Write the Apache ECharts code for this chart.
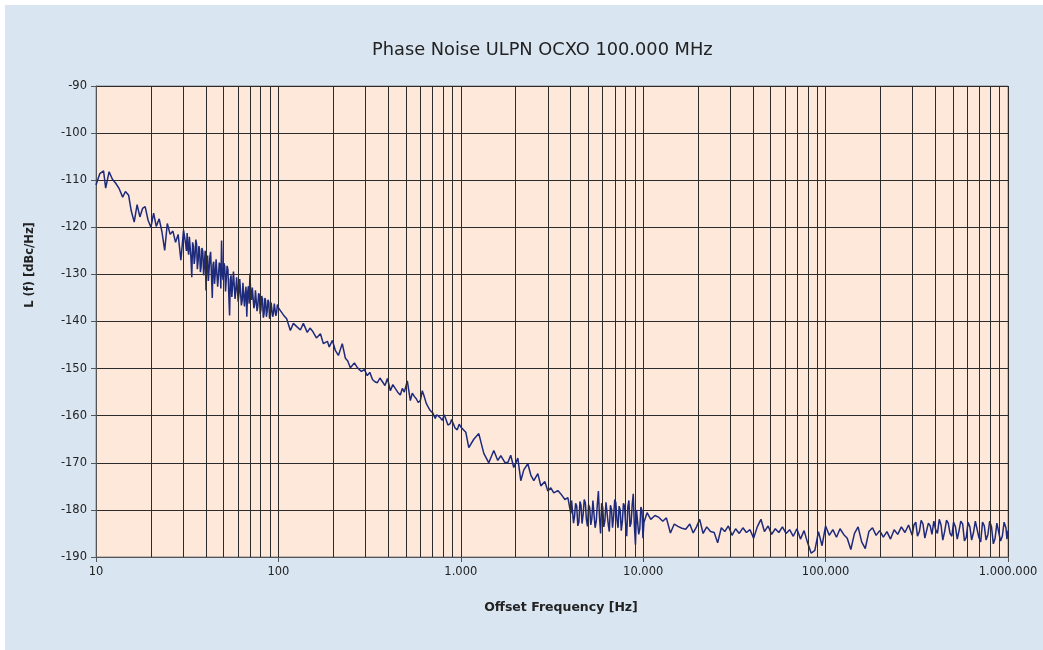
<!DOCTYPE html>
<html>
<head>
<meta charset="utf-8">
<script src="https://cdn.jsdelivr.net/npm/echarts@6/dist/echarts.min.js"></script>
<style>
  html, body { margin: 0; padding: 0; background: #ffffff; }
  #chart { position: absolute; left: 5px; top: 5px; width: 1038px; height: 645px; }
</style>
</head>
<body>
<div id="chart"></div>
<script>
// offset frequency [Hz], 10 Hz .. 100 Hz and 1 kHz .. 1 MHz
const freqHz = [
  10, 10.5, 11, 11.3, 11.8, 12.3, 12.8, 13.4, 14, 14.5, 15.1, 15.6, 16.2, 16.8, 17.4, 18, 18.6, 19.3, 20, 20.7,
  21.4, 22.2, 23, 23.8, 24.6, 25.5, 26.4, 27.3, 28.2, 29.2, 30.2,
  31, 31.3, 31.6, 31.9, 32.2, 32.5, 32.8, 33.15, 33.5, 33.85, 34.2, 34.55, 34.9, 35.25, 35.6, 35.95, 36.3, 36.65, 37, 37.35,
  37.7, 38.1, 38.5, 38.9, 39.3, 39.7, 40.1, 40.5, 40.9, 41.3, 41.7, 42.1, 42.5, 42.95, 43.4, 43.8, 44.2, 44.65, 45.1, 45.55,
  46, 46.45, 46.9, 47.4, 47.9, 48.35, 48.8, 49.3, 49.8, 50.3, 50.8, 51.3, 51.8, 52.35, 52.9, 53.45, 54, 54.5, 55, 55.55,
  56.1, 56.7, 57.3, 57.85, 58.4, 59, 59.6, 60.2, 60.8, 61.4, 62, 62.65, 63.3, 63.9, 64.5, 65.15, 65.8, 66.45, 67.1, 67.8,
  68.5, 69.15, 69.8, 70.5, 71.2, 71.95, 72.7, 73.4, 74.1, 74.85, 75.6, 76.35, 77.1, 77.9, 78.7, 79.45, 80.2, 81, 81.8, 82.65,
  83.5, 84.3, 85.1, 85.95, 86.8, 87.7, 88.6, 89.45, 90.3, 91.2, 92.1, 93.05, 94, 94.95, 95.9, 96.85, 97.8, 98.75, 99.7,
  1065, 1106, 1178, 1255, 1337, 1424, 1517, 1595, 1657, 1743, 1809, 1878, 1951, 2054, 2133, 2215, 2331, 2420, 2513, 2644,
  2746, 2890, 3000, 3115, 3235, 3404, 3535, 3720, 3863, 4011,
  4050, 4100, 4150, 4200, 4260, 4320, 4380, 4440, 4500, 4560, 4620, 4690, 4750, 4820, 4880, 4950, 5020, 5090, 5160, 5230,
  5300, 5380, 5450, 5530, 5600, 5680, 5760, 5840, 5920, 6000, 6080, 6170, 6250, 6340, 6430, 6520, 6610, 6700, 6790, 6890,
  6980, 7080, 7180, 7280, 7380, 7480, 7580, 7690, 7790, 7900, 8010, 8120, 8230, 8350, 8460, 8580, 8700, 8820, 8940, 9070,
  9190, 9320, 9450, 9580, 9710, 9850, 9970, 10100,
  10500, 11000, 11600, 12200, 12800, 13400, 14100, 14800, 15500, 16300, 17100, 18000, 18800, 19600, 20400, 21300, 22300, 23400, 24500, 25600,
  26800, 28000, 29300, 30700, 32100, 33600, 35200, 36800, 38500, 40300, 42200, 44200, 46200, 48400, 50600, 53000, 55400, 58000, 60700, 63500,
  66500, 69600, 72800, 76200, 79700, 83400, 87300, 91400, 95600, 100000, 104700, 109600, 114700, 120000, 125600, 131400, 137500, 144000, 150700, 157700,
  165000, 172700, 180800, 189200, 198000, 207200, 216900, 227000, 237600, 248600, 260200, 272300, 285000, 298300,
  305000, 312200, 319000, 326700, 334000, 342000, 350000, 357900, 366000, 374600, 383000, 392000, 401000, 410300, 420000, 429400, 439000, 449400, 460000, 470300,
  481000, 492200, 503000, 515100, 527000, 539100, 551000, 564200, 577000, 590500, 604000, 618000, 632000, 646800, 662000, 676900, 692000, 708400, 725000, 741400,
  758000, 775900, 794000, 812000, 831000, 849800, 869000, 889400, 910000, 930800, 952000, 974100, 987000, 1000000
];

// L(f) [dBc/Hz] for freqHz
const noiseDbc = [
  -111, -108.6, -108, -111.7, -108.2, -109.8, -110.6, -111.8, -113.6, -112.4, -113.2, -116.5, -118.9, -115.2, -117.8, -116, -115.6, -118.5, -120, -117,
  -119.8, -118.2, -121, -124.9, -119.2, -121.5, -120.8, -123.2, -121.5, -127, -120.6,
  -123.5, -125.0, -121.2, -124.6, -125.8, -122.0, -122.4, -126.5, -130.6, -123.2, -124.0, -127.8, -126.3, -122.6, -123.5, -128.9, -127.2, -124.0, -124.8, -129.5,
  -128.4, -124.4, -125.1, -130.2, -127.5, -125.0, -133.4, -127.8, -126.0, -131.4, -129.0, -126.2, -125.2, -130.0, -135.0, -128.0, -127.3, -132.0, -129.8, -126.8,
  -126.9, -132.6, -130.5, -127.5, -128.0, -133.0, -122.8, -130.0, -131.2, -127.6, -128.3, -133.6, -130.9, -128.2, -129.0, -134.2, -138.7, -131.0, -130.2, -134.8,
  -132.4, -129.4, -129.6, -135.2, -133.5, -130.6, -130.8, -135.8, -134.0, -131.0, -131.2, -136.6, -135.6, -131.8, -132.0, -136.8, -134.2, -132.6, -139.0, -133.8,
  -132.5, -136.2, -129.8, -134.0, -135.4, -132.8, -133.0, -137.2, -136.4, -133.4, -133.8, -137.8, -136.8, -134.0, -134.5, -138.4, -137.5, -134.6, -135.2, -139.2,
  -138.3, -135.0, -135.6, -139.0, -137.8, -135.4, -135.9, -139.4, -138.9, -136.0, -136.3, -139.0, -138.2, -136.2, -136.5, -138.8, -138.0, -136.4, -137.0,
  -163.5, -166.8, -165.0, -163.8, -168.0, -170.0, -167.4, -169.5, -168.5, -169.9, -170.0, -168.4, -171.0, -169.0, -173.8, -171.5, -170.2, -172.6, -173.8, -172.3,
  -174.9, -174.0, -176.0, -175.3, -176.4, -175.9, -176.6, -177.8, -177.4, -180.8,
  -178.0, -178.4, -182.8, -181.5, -178.6, -179.2, -183.4, -182.6, -178.2, -179.0, -182.9, -180.8, -177.8, -178.6, -182.0, -183.5, -178.9, -179.6, -183.2, -181.8,
  -178.0, -178.2, -183.8, -182.4, -179.0, -176.0, -181.6, -185.0, -178.6, -179.5, -183.6, -182.2, -178.4, -178.8, -183.0, -184.6, -179.0, -179.8, -183.8, -181.2,
  -177.8, -178.5, -182.2, -183.8, -179.2, -180.0, -184.4, -182.4, -178.6, -179.2, -183.0, -185.6, -179.4, -178.0, -183.6, -182.8, -179.0, -176.6, -183.2, -187.4,
  -180.0, -179.6, -185.2, -184.0, -179.4, -180.2, -186.0, -182.6,
  -180.6, -182.0, -181.2, -181.6, -182.4, -181.7, -184.9, -183.0, -183.5, -183.9, -184.1, -183.0, -184.9, -183.6, -182.0, -185.0, -183.6, -184.6, -184.8, -187.0,
  -183.8, -184.6, -183.4, -185.4, -184.0, -185.0, -183.8, -184.8, -184.2, -186.0, -183.6, -182.0, -184.6, -183.4, -185.2, -184.0, -184.8, -183.6, -185.0, -184.2,
  -185.6, -184.0, -186.2, -184.4, -187.0, -189.2, -188.6, -184.6, -187.6, -183.4, -185.4, -184.2, -185.8, -184.0, -185.2, -186.0, -188.4, -185.0, -183.6, -186.8,
  -188.2, -184.6, -183.8, -185.4, -184.4, -185.8, -184.6, -186.2, -184.2, -185.2, -183.6, -184.8, -183.2, -185.4,
  -183.2, -182.6, -185.6, -184.6, -182.2, -183.0, -186.0, -185.8, -182.8, -183.4, -185.2, -182.4, -184.2, -185.0, -182.0, -183.2, -186.4, -184.6, -182.2, -182.8,
  -185.0, -185.6, -182.6, -183.6, -186.2, -184.4, -182.4, -183.0, -186.6, -185.8, -182.6, -183.6, -186.4, -184.8, -182.4, -182.8, -185.8, -186.8, -182.6, -183.4,
  -186.4, -185.2, -182.4, -183.6, -187.2, -186.0, -182.8, -183.2, -186.6, -185.6, -182.6, -183.8, -186.2, -184.4
];

// 100 Hz .. 1 kHz decade
const freqMidHz = [
  103, 106.5, 111, 116.3, 120.8, 127, 132, 137, 144, 149, 153.6, 161.6, 170, 176.4, 185.6, 190, 197.8, 205.4, 213.3, 224,
  233, 240, 248, 261, 271, 285, 296, 307, 317, 328, 338, 349, 360, 372, 384, 396, 411, 424, 437, 451,
  466, 478, 490, 509, 529, 542, 556, 570, 584, 600, 615, 631, 647, 663, 680, 702, 724, 738, 752, 771,
  791, 812, 832, 850, 875, 890, 909, 930, 956, 980, 1000
];
const noiseMidDbc = [
  -137.8, -138.6, -139.4, -141.9, -140.4, -141.2, -141.8, -140.4, -142.3, -141.4, -142.0, -143.5, -142.6, -144.7, -144.2, -145.4, -144.0, -146.2, -147.2, -144.7,
  -147.8, -148.4, -149.8, -148.8, -149.8, -150.6, -150.2, -151.5, -150.8, -152.3, -152.8, -153.0, -152.0, -152.8, -153.6, -152.1, -154.7, -153.4, -154.2, -155.0,
  -155.6, -154.2, -155.0, -152.6, -156.8, -155.2, -155.9, -156.4, -157.2, -156.8, -154.7, -156.0, -157.4, -158.2, -158.9, -159.4, -160.6, -159.8, -159.4, -160.4,
  -161.0, -159.8, -160.2, -162.0, -161.7, -160.8, -160.6, -162.6, -163.0, -161.8, -162.4
];

// vertical grid lines between the decades (2..9 x 10^n)
const minorGridHz = [];
for (let d = 10; d < 1000000; d *= 10) {
  for (let k = 2; k <= 9; k++) minorGridHz.push(k * d);
}

const yTicks = { min: -190, max: -90, step: 10 };

const points = freqHz.map((f, i) => [f, noiseDbc[i]])
  .concat(freqMidHz.map((f, i) => [f, noiseMidDbc[i]]))
  .sort((a, b) => a[0] - b[0]);

const chart = echarts.init(document.getElementById('chart'));

const gridColor = '#2b2b2b';
const fontFamily = 'DejaVu Sans, Liberation Sans, Arial, sans-serif';

chart.setOption({
  animation: false,
  backgroundColor: '#d9e5f1',
  title: {
    text: 'Phase Noise ULPN OCXO 100.000 MHz',
    left: 362,
    top: 31,
    textStyle: { fontFamily: fontFamily, fontSize: 17.8, fontWeight: 'normal', color: '#222' }
  },
  grid: {
    left: 91,
    right: 35,
    top: 81,
    bottom: 93,
    show: true,
    backgroundColor: '#fde8da',
    borderColor: '#8a8a8a',
    borderWidth: 1
  },
  xAxis: {
    type: 'log',
    logBase: 10,
    min: 10,
    max: 1000000,
    splitNumber: 5,
    name: 'Offset Frequency [Hz]',
    nameLocation: 'middle',
    nameGap: 44,
    nameTextStyle: { fontFamily: fontFamily, fontSize: 12.5, fontWeight: 'bold', color: '#222', padding: [0, 0, 0, 18] },
    axisLine: { show: true, lineStyle: { color: '#555', width: 1 } },
    axisTick: { show: true, length: 5, lineStyle: { color: '#555' } },
    axisLabel: {
      fontFamily: fontFamily, fontSize: 11.5, color: '#222', margin: 9,
      formatter: v => String(Math.round(v)).replace(/\B(?=(\d{3})+(?!\d))/g, '.')
    },
    splitLine: { show: true, lineStyle: { color: gridColor, width: 1 } }
  },
  yAxis: {
    type: 'value',
    min: yTicks.min,
    max: yTicks.max,
    interval: yTicks.step,
    axisLine: { show: true, lineStyle: { color: '#555', width: 1 } },
    axisTick: { show: true, length: 5, lineStyle: { color: '#555' } },
    axisLabel: { fontFamily: fontFamily, fontSize: 11.5, color: '#222', margin: 9 },
    splitLine: { show: true, lineStyle: { color: gridColor, width: 1 } }
  },
  graphic: [
    {
      type: 'text',
      x: 25,
      y: 260,
      rotation: Math.PI / 2,
      style: {
        text: 'L (f) [dBc/Hz]',
        x: 0, y: 0,
        textAlign: 'center',
        textVerticalAlign: 'middle',
        font: 'bold 11.5px ' + fontFamily,
        fill: '#222'
      }
    }
  ],
  series: [
    {
      type: 'line',
      data: [],
      z: 1,
      silent: true,
      markLine: {
        silent: true,
        symbol: 'none',
        animation: false,
        label: { show: false },
        lineStyle: { color: gridColor, width: 1, type: 'solid' },
        emphasis: { disabled: true },
        data: minorGridHz.map(f => ({ xAxis: f }))
      }
    },
    {
      name: 'L(f)',
      type: 'line',
      z: 3,
      data: points,
      showSymbol: false,
      symbol: 'none',
      lineStyle: { color: '#1e2a7c', width: 1.5 }
    }
  ]
});
</script>
</body>
</html>
